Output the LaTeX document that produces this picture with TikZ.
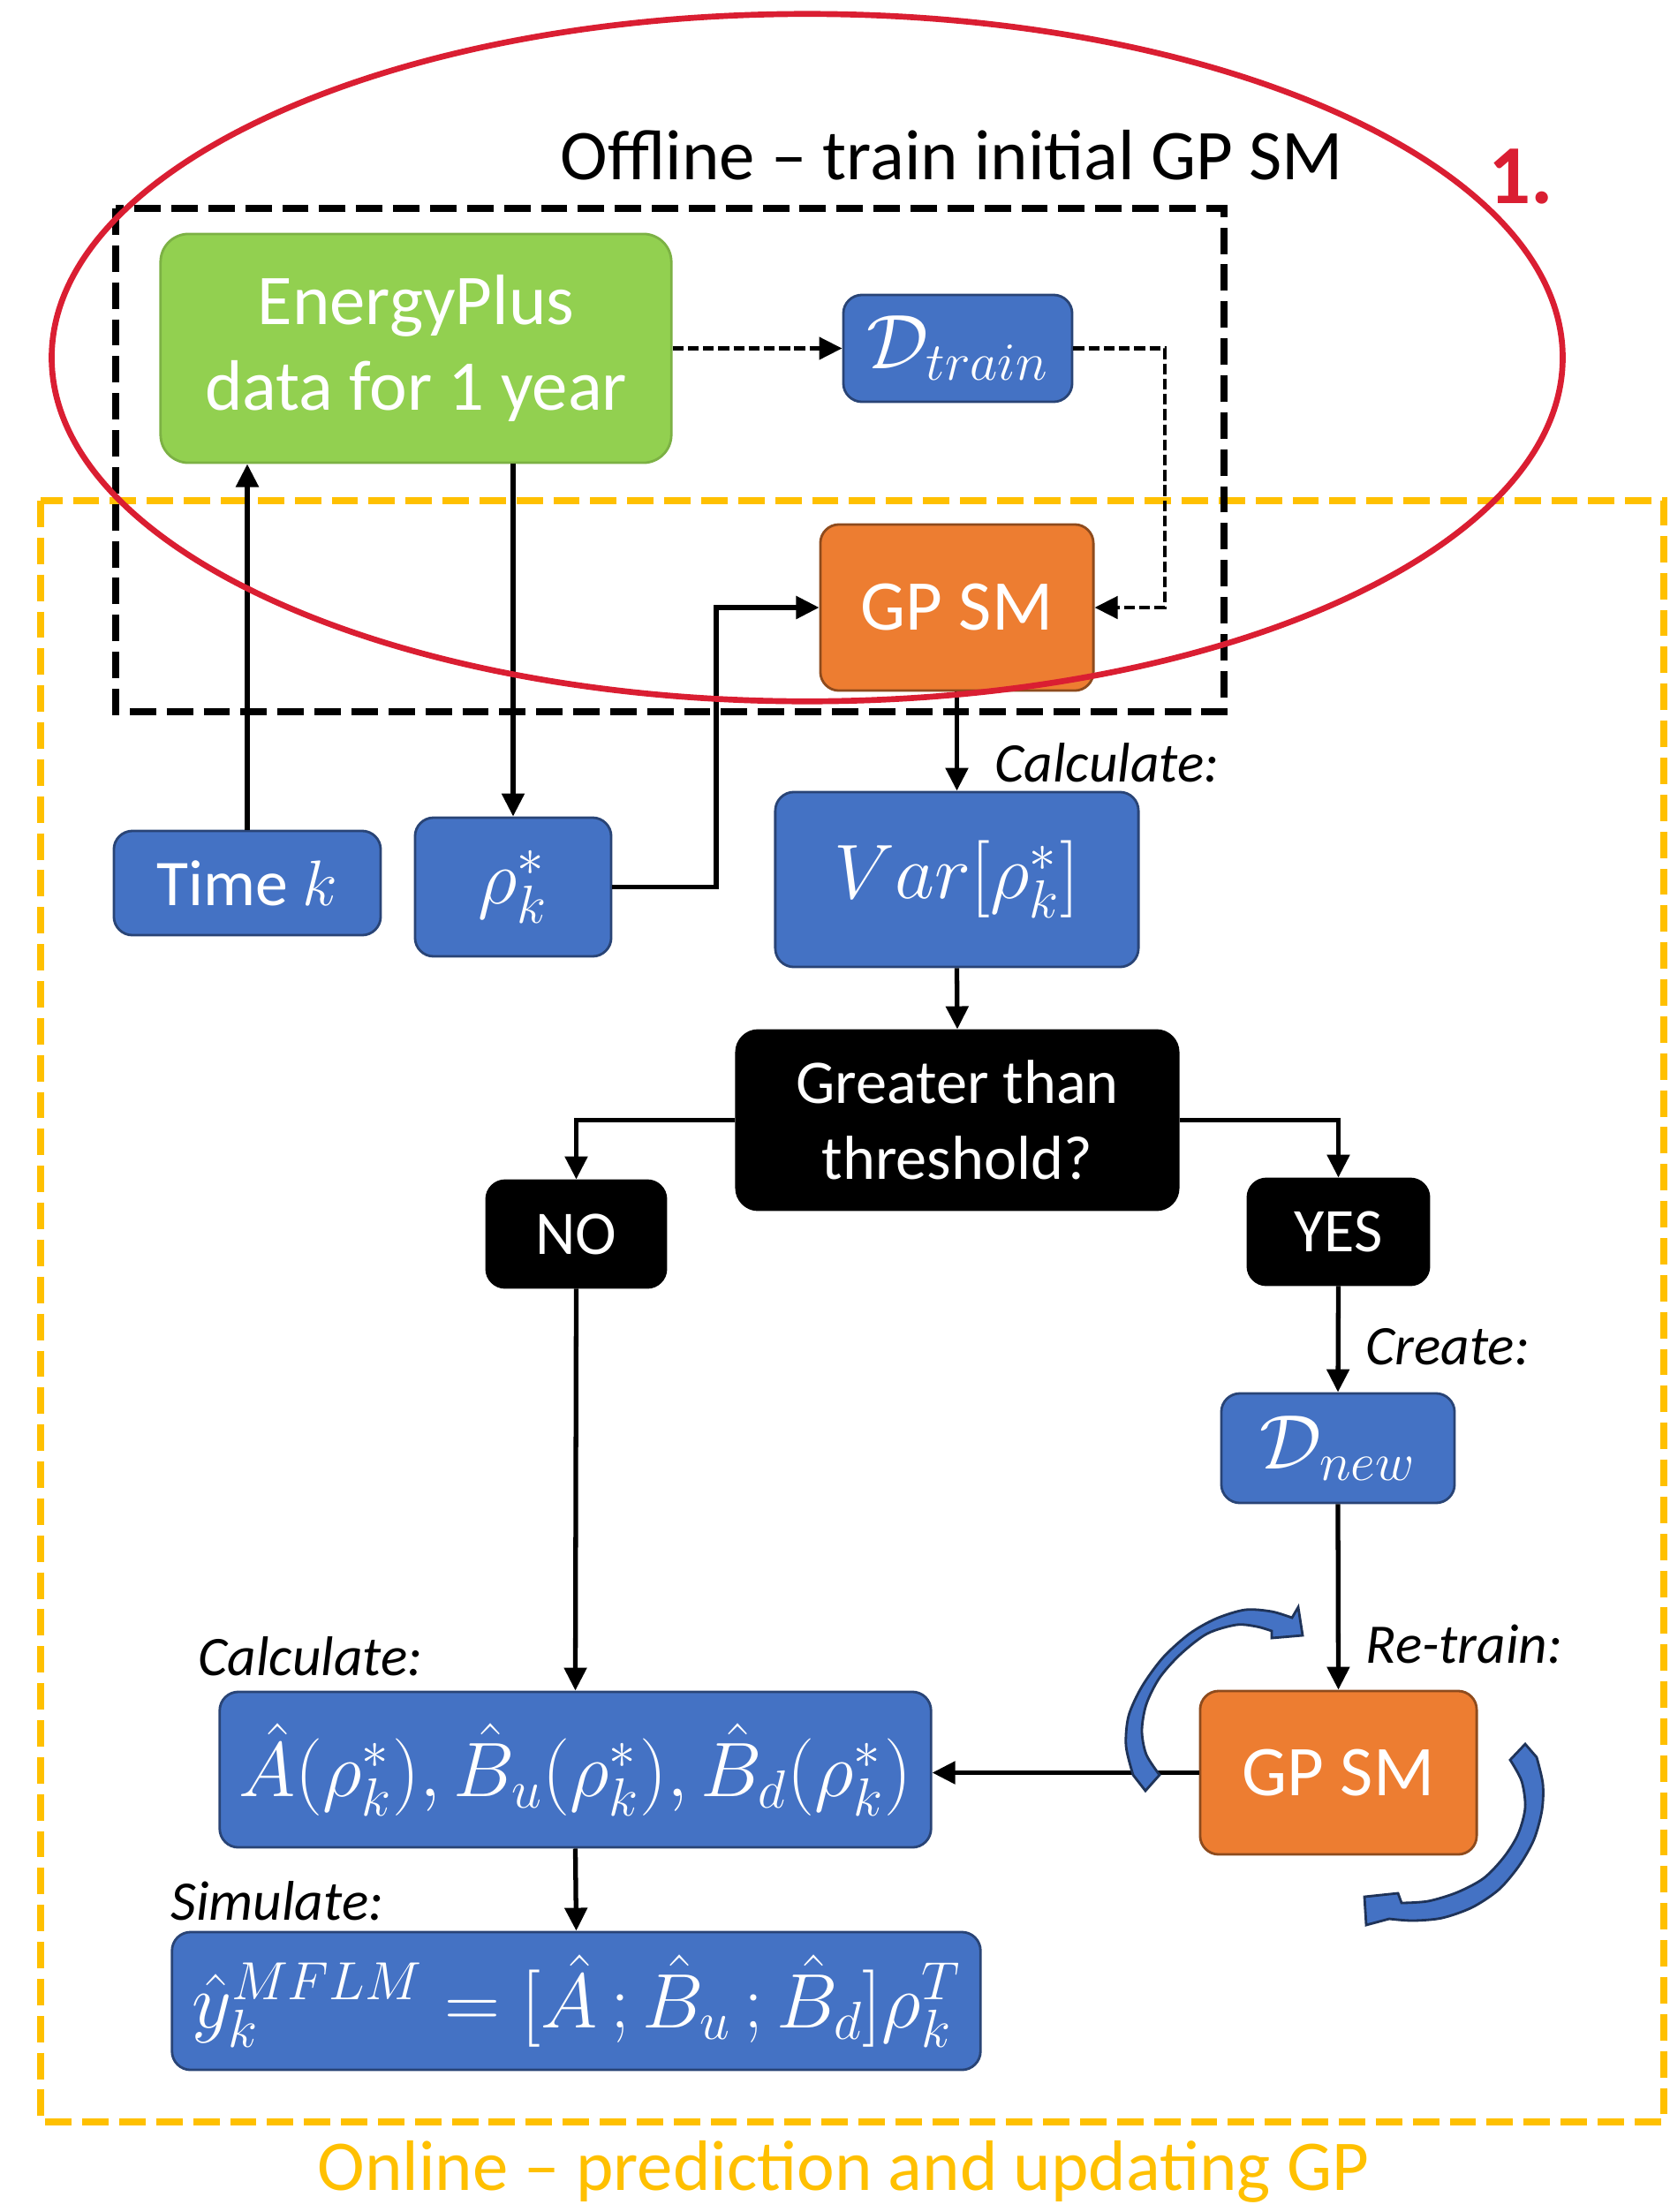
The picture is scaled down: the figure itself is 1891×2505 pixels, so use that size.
\documentclass[tikz,border=0pt]{standalone}
\usepackage{fontspec}
\setmainfont{Carlito}
\usetikzlibrary{arrows.meta, positioning, calc}
\definecolor{boxblue}{RGB}{68, 114, 196}
\definecolor{boxorange}{RGB}{237, 125, 49}
\definecolor{boxgreen}{RGB}{146, 208, 80}
\definecolor{onlineyellow}{RGB}{255, 192, 0}
\definecolor{offlinered}{RGB}{218, 30, 50}
\newcommand{\boxtxt}{\fontsize{23}{27.6}\selectfont}
\newcommand{\mathtxt}{\fontsize{26}{30}\selectfont}
\newcommand{\decisiontxt}{\fontsize{20}{24.6}\selectfont}
\newcommand{\notetxt}{\fontsize{18}{21}\selectfont}
\tikzset{
  basebox/.style={rounded corners=6pt, line width=0.8pt, text=white, align=center, inner sep=2pt},
  bluebox/.style={basebox, draw=boxblue!60!black, fill=boxblue},
  orangebox/.style={basebox, draw=boxorange!60!black, fill=boxorange, font=\boxtxt},
  greenbox/.style={basebox, draw=boxgreen!85!black, fill=boxgreen, font=\boxtxt},
  blackbox/.style={basebox, draw=black, fill=black, font=\decisiontxt},
  steplabel/.style={font=\notetxt\itshape, anchor=west, inner sep=0pt},
  flow/.style={-{Triangle[length=0.26cm, width=0.25cm]}, line width=1.5pt},
  dotflow/.style={flow, dash pattern=on 3.5pt off 1.4pt, line width=1.3pt},
  framebox/.style={line width=2.5pt, dash pattern=on 8.5pt off 3.4pt},
}

\begin{document}
\begin{tikzpicture}[x=0.01cm, y=-0.01cm]
  \useasboundingbox (0,0) rectangle (1891,2505);

  % Online and offline frames
  \draw[framebox, onlineyellow] (46,567) rectangle (1884,2403);
  \draw[framebox, black] (131,236) rectangle (1386,806);
  \node[font=\boxtxt] (offtitle) at (1078,176) {Offline -- train initial GP SM};
  \node[font=\fontsize{27}{30}\selectfont\bfseries, text=offlinered] (stageone) at (1722,200) {1.};
  \node[font=\boxtxt, text=onlineyellow] (ontitle) at (955,2459) {Online -- prediction and updating GP};

  % Offline training
  \node[greenbox, rounded corners=9pt, minimum width=5.78cm, minimum height=2.59cm] (energy) at (471,394.5) {EnergyPlus\\data for 1 year};
  \node[bluebox, font=\mathtxt, minimum width=2.59cm, minimum height=1.21cm] (dtrain) at (1084.5,394.5) {$\mathcal{D}_{train}$};
  \node[orangebox, minimum width=3.09cm, minimum height=1.88cm] (gptop) at (1083.5,688) {GP SM};

  % Inputs and variance check
  \node[bluebox, font=\fontsize{21}{25}\selectfont, minimum width=3.02cm, minimum height=1.18cm] (timek) at (280,1000) {Time $k$};
  \node[bluebox, font=\mathtxt, minimum width=2.22cm, minimum height=1.57cm] (rho) at (581,1004.5) {$\rho_k^*$};
  \node[bluebox, font=\mathtxt, minimum width=4.11cm, minimum height=1.98cm] (var) at (1083.5,996) {$Var[\rho_k^*]$};
  \node[blackbox, rounded corners=7pt, minimum width=5cm, minimum height=2.03cm] (greater) at (1084,1268.5) {Greater than\\threshold?};
  \node[blackbox, minimum width=2.03cm, minimum height=1.21cm] (no) at (652.5,1397.5) {NO};
  \node[blackbox, minimum width=2.05cm, minimum height=1.2cm] (yes) at (1515.5,1395) {YES};

  % Re-training branch
  \node[bluebox, font=\mathtxt, minimum width=2.64cm, minimum height=1.24cm] (dnew) at (1515,1640) {$\mathcal{D}_{new}$};
  \node[orangebox, minimum width=3.13cm, minimum height=1.85cm] (gpbot) at (1515.5,2007.5) {GP SM};

  % Model matrices and output
  \node[bluebox, font=\mathtxt, minimum width=8.05cm, minimum height=1.76cm] (ahat) at (651.5,2004) {$\hat{A}(\rho_k^*), \hat{B}_u(\rho_k^*), \hat{B}_d(\rho_k^*)$};
  \node[bluebox, font=\mathtxt, minimum width=9.15cm, minimum height=1.56cm] (yhat) at (652.5,2266) {$\hat{y}_k^{MFLM} = [\hat{A}\,;\hat{B}_u\,;\hat{B}_d]\rho_k^T$};

  % Step labels
  \node[steplabel] (calcvar) at (1126,864) {Calculate:};
  \node[steplabel] (create) at (1546,1525) {Create:};
  \node[steplabel] (retrain) at (1546,1862) {Re-train:};
  \node[steplabel] (calcmat) at (224,1876) {Calculate:};
  \node[steplabel] (simulate) at (193,2153) {Simulate:};

  % Connectors
  \coordinate (rhobend) at (811,688);
  \coordinate (trainbend) at (1319,688);
  \draw[flow] (timek.north) -- (timek.north |- energy.south);
  \draw[flow] (energy.south -| rho.north) -- (rho.north);
  \draw[flow] (rho.east) -| (rhobend) -- (gptop.west);
  \draw[dotflow] (energy.east) -- (dtrain.west);
  \draw[dotflow] (dtrain.east) -| (trainbend) -- (gptop.east);
  \draw[flow] (gptop.south) -- (var.north);
  \draw[flow] (var.south) -- (greater.north);
  \draw[flow] (greater.west) -| (no.north);
  \draw[flow] (greater.east) -| (yes.north);
  \draw[flow] (no.south) -- (ahat.north);
  \draw[flow] (yes.south) -- (dnew.north);
  \draw[flow] (dnew.south) -- (gpbot.north);
  \draw[flow] (gpbot.west) -- (gpbot.west -| ahat.east);
  \draw[flow] (ahat.south) -- (yhat.north);

  % Re-training cycle arrows
  \filldraw[fill=boxblue, draw=boxblue!45!black, line width=0.8pt]
    (1297,2028) -- plot[smooth] coordinates {(1283,2010) (1275,1977) (1278,1943) (1293,1910) (1317,1877) (1347,1850) (1377,1833) (1410,1823) (1440,1825) (1463,1832)}
    -- (1470,1820) -- (1475,1852) -- (1440,1855)
    -- plot[smooth] coordinates {(1440,1847) (1423,1842) (1400,1840) (1367,1850) (1337,1873) (1313,1900) (1298,1930) (1293,1960) (1298,1987) (1313,2010)} -- cycle;
  \filldraw[fill=boxblue, draw=boxblue!45!black, line width=0.8pt]
    (1727,1975) -- plot[smooth] coordinates {(1740,1990) (1747,2020) (1746,2050) (1737,2083) (1720,2113) (1697,2140) (1667,2160) (1633,2172) (1600,2175) (1573,2173)}
    -- (1547,2180) -- (1545,2148) -- (1583,2144)
    -- plot[smooth] coordinates {(1587,2155) (1617,2153) (1650,2143) (1680,2127) (1703,2103) (1719,2077) (1727,2047) (1723,2017) (1710,1993)} -- cycle;

  % Offline stage marker
  \draw[offlinered, line width=1.9pt] (914,405) ellipse [x radius=8.55cm, y radius=3.89cm];
\end{tikzpicture}
\end{document}
